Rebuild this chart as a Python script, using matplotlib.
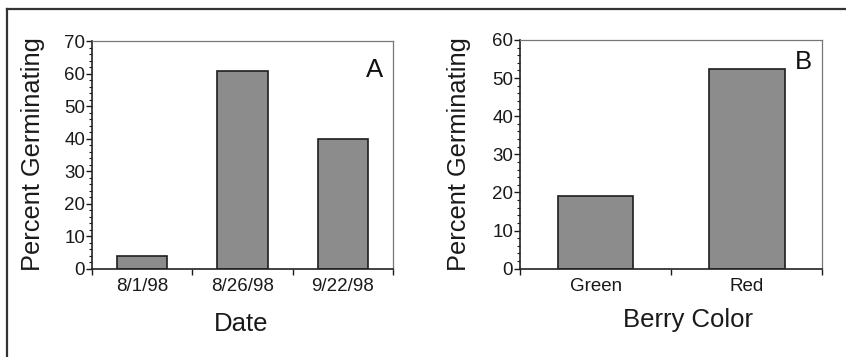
import matplotlib
matplotlib.use("Agg")
import matplotlib.pyplot as plt
from matplotlib.lines import Line2D
from matplotlib.ticker import MultipleLocator, FixedLocator, NullFormatter, FixedFormatter

plt.rcParams['font.family'] = ['Liberation Sans', 'DejaVu Sans']

# Data
dates = ["8/1/98", "8/26/98", "9/22/98"]
pct_by_date = [4, 61, 40]
colors_cat = ["Green", "Red"]
pct_by_color = [19, 52.5]

W, H = 846, 357
fig = plt.figure(figsize=(W / 100, H / 100), dpi=100)

bar_face = "#8c8c8c"
bar_edge = "#1e1e1e"
txt = '#1a1a1a'


def style_axes(ax, ncat, ymax, letter, lx, ly):
    ax.set_xlim(-0.5, ncat - 0.5)
    ax.set_ylim(0, ymax)
    ax.yaxis.set_major_locator(MultipleLocator(10))
    ax.yaxis.set_minor_locator(MultipleLocator(2))
    ax.xaxis.set_major_locator(FixedLocator([i - 0.5 for i in range(ncat + 1)]))
    ax.xaxis.set_major_formatter(NullFormatter())
    ax.xaxis.set_minor_locator(FixedLocator(list(range(ncat))))
    ax.tick_params(axis='y', which='major', direction='out', length=4, width=1,
                   labelsize=13.5, pad=1, colors=txt)
    ax.tick_params(axis='y', which='minor', direction='out', length=2, width=0.8,
                   colors=txt)
    ax.tick_params(axis='x', which='major', direction='out', length=4.5, width=1,
                   colors=txt)
    ax.tick_params(axis='x', which='minor', length=0, labelsize=13.5, pad=7,
                   labelcolor=txt)
    for s in ['left', 'bottom']:
        ax.spines[s].set_linewidth(1.2)
        ax.spines[s].set_color('#222222')
    for s in ['top', 'right']:
        ax.spines[s].set_linewidth(0.9)
        ax.spines[s].set_color('#777777')
    ax.text(lx, ly, letter, transform=ax.transAxes, ha='center', va='center',
            fontsize=18.5, color='#111111')


# Panel A
axA = fig.add_axes([92 / W, (H - 268.7) / H, 301 / W, 227.4 / H])
axA.bar(range(len(dates)), pct_by_date, width=0.5, color=bar_face,
        edgecolor=bar_edge, linewidth=1.2)
style_axes(axA, len(dates), 70, "A", 0.940, 0.874)
axA.xaxis.set_minor_formatter(FixedFormatter(dates))
axA.set_ylabel("Percent Germinating", fontsize=18.3, va='center', color=txt)
axA.yaxis.set_label_coords(-0.196, 0.504)
axA.set_xlabel("Date", fontsize=18.5, va='center', color=txt)
axA.xaxis.set_label_coords(0.494, -0.241)

# Panel B
axB = fig.add_axes([520 / W, (H - 268.7) / H, 302.3 / W, 228.7 / H])
axB.bar(range(len(colors_cat)), pct_by_color, width=0.5, color=bar_face,
        edgecolor=bar_edge, linewidth=1.2)
style_axes(axB, len(colors_cat), 60, "B", 0.936, 0.904)
axB.xaxis.set_minor_formatter(FixedFormatter(colors_cat))
axB.set_ylabel("Percent Germinating", fontsize=18.3, va='center', color=txt)
axB.yaxis.set_label_coords(-0.202, 0.50)
axB.set_xlabel("Berry Color", fontsize=18.5, va='center', color=txt)
axB.xaxis.set_label_coords(0.557, -0.226)

# Figure frame (left and top edges)
fig.add_artist(Line2D([7 / W, 7 / W], [0, 1 - 9 / H], color='#333333', linewidth=1.6))
fig.add_artist(Line2D([7 / W, 1], [1 - 9 / H, 1 - 9 / H], color='#333333', linewidth=1.6))

fig.savefig("out.png", dpi=100)
